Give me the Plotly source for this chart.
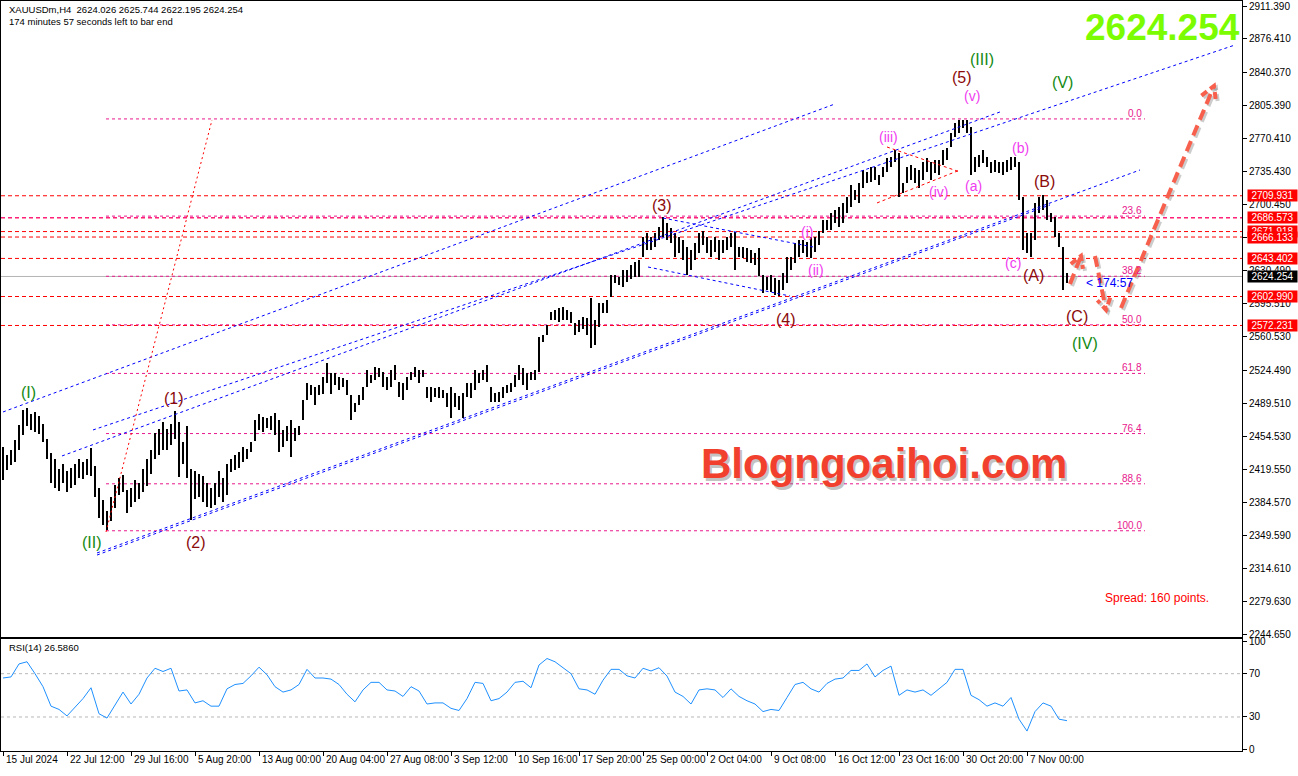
import numpy as np
import plotly.graph_objects as go

# ---------------- data ----------------
# one plotted bar = two H4 bars; high / low prices
highs = [2443, 2435, 2440, 2451, 2467, 2483,
         2485, 2478, 2480, 2476, 2468,
         2452, 2437, 2430,
         2420, 2425, 2418, 2421,
         2425, 2430, 2427, 2431, 2442,
         2423, 2400, 2387, 2375,
         2390, 2403, 2410, 2413, 2398, 2400,
         2408, 2405, 2420, 2430,
         2440, 2458, 2462, 2470, 2462,
         2468, 2481, 2470,
         2448, 2465, 2420,
         2418, 2415, 2412, 2405, 2400, 2405, 2418, 2410, 2425,
         2430, 2435, 2438, 2443, 2441, 2448, 2472, 2478, 2475, 2474,
         2476, 2479, 2472, 2461, 2466, 2472, 2463, 2466, 2493, 2511,
         2509, 2507, 2509, 2517, 2532, 2522, 2522, 2518, 2516, 2514,
         2498, 2490, 2498, 2507, 2525, 2520, 2528, 2527, 2523, 2518,
         2525, 2530, 2512, 2511, 2518, 2523, 2528, 2525, 2525, 2507,
         2507, 2506, 2507, 2504, 2501, 2507, 2501, 2497, 2501, 2511,
         2511, 2525, 2522, 2525, 2530, 2507, 2501, 2502, 2507, 2509,
         2511, 2520, 2530, 2527, 2522, 2523, 2525, 2560, 2562, 2573,
         2587, 2589, 2591, 2592, 2589, 2587, 2575, 2578, 2581, 2580,
         2601, 2578, 2596, 2596, 2599, 2626, 2626, 2624, 2631, 2631,
         2636, 2640, 2642, 2666, 2670, 2666, 2670, 2677, 2687, 2681,
         2676, 2670, 2666, 2663, 2656, 2652, 2660, 2670, 2673, 2666,
         2663, 2666, 2663, 2663, 2666, 2670, 2671, 2656, 2656, 2655,
         2652, 2649, 2655, 2626, 2624, 2626, 2623, 2620, 2628, 2645,
         2645, 2660, 2663, 2663, 2661, 2666, 2666, 2672, 2684, 2684,
         2692, 2695, 2698, 2702, 2709, 2721, 2716, 2723, 2737, 2735,
         2740, 2740, 2732, 2740, 2750, 2751, 2759, 2755, 2723, 2740,
         2743, 2739, 2737, 2746, 2750, 2746, 2748, 2748, 2759, 2761,
         2777, 2787, 2790, 2790, 2790, 2783, 2751, 2753, 2759, 2751,
         2746, 2748, 2746, 2746, 2748, 2751, 2751, 2746, 2709, 2670,
         2670, 2702, 2709, 2711, 2705, 2692, 2687, 2670, 2656, 2628]

lows = [2408, 2419, 2424, 2427, 2440, 2456,
        2466, 2461, 2459, 2457, 2448,
        2430, 2405, 2400,
        2397, 2405, 2395, 2400,
        2403, 2410, 2409, 2413, 2412,
        2390, 2368, 2360, 2355,
        2365, 2378, 2392, 2395, 2373, 2380,
        2385, 2388, 2395, 2402,
        2415, 2430, 2435, 2440, 2440,
        2445, 2452, 2411,
        2425, 2410, 2366,
        2388, 2390, 2385, 2380, 2378, 2382, 2390, 2385, 2392,
        2417, 2419, 2421, 2427, 2430, 2438, 2450, 2461, 2459, 2463,
        2461, 2456, 2438, 2443, 2450, 2433, 2450, 2456, 2472, 2493,
        2498, 2488, 2498, 2500, 2511, 2500, 2509, 2504, 2507, 2498,
        2472, 2480, 2488, 2493, 2507, 2511, 2514, 2517, 2507, 2504,
        2507, 2514, 2496, 2493, 2504, 2514, 2517, 2511, 2517, 2495,
        2491, 2496, 2495, 2495, 2486, 2474, 2486, 2483, 2474, 2496,
        2495, 2504, 2511, 2514, 2512, 2491, 2491, 2491, 2495, 2501,
        2502, 2507, 2514, 2509, 2504, 2514, 2514, 2523, 2555, 2562,
        2578, 2578, 2576, 2578, 2578, 2575, 2562, 2565, 2569, 2562,
        2548, 2552, 2571, 2585, 2585, 2602, 2617, 2615, 2613, 2618,
        2622, 2624, 2624, 2645, 2652, 2652, 2656, 2663, 2666, 2663,
        2660, 2645, 2649, 2642, 2626, 2631, 2642, 2649, 2658, 2649,
        2645, 2650, 2642, 2649, 2652, 2656, 2631, 2645, 2644, 2640,
        2639, 2636, 2625, 2607, 2610, 2608, 2605, 2603, 2610, 2617,
        2631, 2639, 2645, 2649, 2645, 2644, 2650, 2658, 2670, 2674,
        2674, 2681, 2677, 2681, 2692, 2698, 2705, 2702, 2718, 2723,
        2725, 2727, 2721, 2730, 2735, 2740, 2746, 2709, 2713, 2723,
        2727, 2723, 2718, 2727, 2735, 2727, 2734, 2732, 2743, 2748,
        2762, 2772, 2777, 2782, 2777, 2732, 2735, 2740, 2745, 2740,
        2734, 2735, 2734, 2732, 2735, 2737, 2740, 2705, 2652, 2649,
        2645, 2663, 2692, 2695, 2684, 2682, 2666, 2656, 2610, 2617]

# RSI(14), one value every four H4 bars
rsi_values = [66, 67, 79, 81, 70, 58, 40, 37, 31, 39,
              47, 57, 33, 29, 41, 53, 42, 51, 66, 75,
              72, 75, 54, 55, 43, 45, 40, 40, 56, 60,
              61, 68, 76, 69, 58, 53, 55, 60, 74, 66,
              66, 65, 60, 51, 44, 55, 62, 62, 55, 54,
              49, 58, 54, 42, 43, 43, 38, 36, 47, 62,
              61, 45, 47, 53, 62, 63, 57, 78, 84, 81,
              75.5, 70, 56, 55, 51, 64, 74, 74, 68, 66,
              75, 72.5, 75.5, 67.8, 53, 49, 42, 55, 56, 55,
              48, 56, 49, 45, 42, 35, 37, 36, 48, 60,
              62, 56, 53, 61, 65, 66, 73, 73, 79, 67,
              73, 77, 50, 55, 53, 55, 50, 56, 62, 74,
              74, 50, 46, 40, 43, 40, 48, 28, 17, 35,
              43, 40, 28, 26.586]

time_labels = ["15 Jul 2024", "22 Jul 12:00", "29 Jul 16:00", "5 Aug 20:00",
               "13 Aug 00:00", "20 Aug 04:00", "27 Aug 08:00", "3 Sep 12:00",
               "10 Sep 16:00", "17 Sep 20:00", "25 Sep 00:00", "2 Oct 04:00",
               "9 Oct 08:00", "16 Oct 12:00", "23 Oct 16:00", "30 Oct 20:00",
               "7 Nov 00:00"]
time_label_bars = [0, 32, 64, 96, 128, 160, 192, 224, 256, 288, 320, 352,
                   384, 416, 448, 480, 512]

price_ticks = [2911.390, 2876.410, 2840.370, 2805.390, 2770.410, 2735.430,
               2700.450, 2665.470, 2630.490, 2595.510, 2560.530, 2524.490,
               2489.510, 2454.530, 2419.550, 2384.570, 2349.590, 2314.610,
               2279.630, 2244.650]

level_prices = [2709.931, 2686.573, 2671.918, 2666.133, 2643.402, 2602.990, 2572.231]
bid_price = 2624.254

fib_high = 2791.5
fib_low = 2354.3
fib_levels = [0.0, 23.6, 38.2, 50.0, 61.8, 76.4, 88.6, 100.0, 127.2]

# Elliott-wave labels: text, bar index, price, colour group, size
wave_labels = [
    ("(I)", 12.5, 2501.6, "g", 16), ("(II)", 44.5, 2341.3, "g", 16),
    ("(1)", 85.5, 2494.2, "r", 16), ("(2)", 96.5, 2341.3, "r", 16),
    ("(3)", 329.5, 2700.1, "r", 16), ("(4)", 391.5, 2578.1, "r", 16),
    ("(5)", 479.5, 2836.0, "r", 16), ("(III)", 489.5, 2854.1, "g", 16),
    ("(V)", 529.5, 2830.7, "g", 16),
    ("(i)", 402.0, 2671.5, "m", 14), ("(ii)", 406.5, 2631.1, "m", 14),
    ("(iii)", 442.5, 2772.3, "m", 14), ("(iv)", 467.5, 2713.9, "m", 14),
    ("(v)", 484.5, 2815.9, "m", 14), ("(a)", 485.0, 2720.3, "m", 14),
    ("(b)", 508.5, 2760.7, "m", 14), ("(c)", 505.0, 2638.6, "m", 14),
    ("(A)", 515.0, 2625.8, "r", 16), ("(B)", 520.5, 2725.6, "r", 16),
    ("(C)", 537.0, 2581.3, "r", 16), ("(IV)", 541.0, 2553.6, "g", 16),
]

# hand-drawn trend lines: (bar0, price0, bar1, price1)
blue_lines = [
    (0.0, 2480.4, 416.0, 2807.4),
    (29.5, 2433.7, 498.5, 2798.9),
    (45.0, 2461.3, 616.0, 2870.0),
    (47.0, 2330.7, 568.5, 2737.3),
    (47.0, 2328.5, 523.5, 2700.2),
    (330.0, 2686.3, 405.0, 2655.6),
    (322.5, 2634.3, 393.5, 2603.5),
]
red_lines = [
    (442.0, 2761.7, 478.5, 2735.2),
    (437.0, 2702.3, 478.5, 2737.3),
]
fib_diagonal = (51.5, 2353.0, 104.5, 2790.4)

# forecast arrows: shaft (bar0, p0, bar1, p1) and head (wing1, tip, wing2)
arrows = [
    ((533.5, 2616.3, 539.0, 2646.0), ((533.9, 2637.5), (539.0, 2646.0), (540.0, 2632.3))),
    ((546.0, 2646.0, 551.5, 2588.7), ((553.6, 2601.7), (551.5, 2588.7), (547.2, 2599.0))),
    ((559.0, 2590.8, 605.5, 2826.5), ((599.2, 2816.2), (605.5, 2826.5), (606.5, 2809.6))),
]

BARS_PER_POINT = 2
RSI_STEP = 4
FIB_START, FIB_END = 51.5, 571.0

# ---------------- figure ----------------
bar_x = np.arange(len(highs)) * BARS_PER_POINT
hi = np.array(highs, dtype=float)
lo = np.array(lows, dtype=float)
rsi_x = np.arange(len(rsi_values)) * RSI_STEP

FONT = "Liberation Sans"
COL = {"g": "#138a13", "r": "#8b0a0a", "m": "#f03cf0"}
XR = [-1.0, 619.5]

fig = go.Figure()
fig.add_trace(go.Bar(x=bar_x, y=hi - lo, base=lo, width=0.8,
                     marker=dict(color="black", line=dict(width=0)),
                     xaxis="x", yaxis="y", showlegend=False, hoverinfo="skip"))
fig.add_trace(go.Scatter(x=rsi_x, y=rsi_values, mode="lines",
                         line=dict(color="#1e90ff", width=1),
                         xaxis="x2", yaxis="y2", showlegend=False, hoverinfo="skip"))

shapes = []
annotations = []

# RSI levels
for lv in (70, 30):
    shapes.append(dict(type="line", xref="x2", yref="y2", x0=XR[0], x1=XR[1], y0=lv, y1=lv,
                       line=dict(color="#b8b8b8", width=1, dash="3px,3px"), layer="below"))

# fib levels
for lv in fib_levels:
    p = fib_high - (fib_high - fib_low) * lv / 100.0
    shapes.append(dict(type="line", xref="x", yref="y", x0=FIB_START, x1=FIB_END, y0=p, y1=p,
                       line=dict(color="#e8188c", width=1, dash="3px,3px"), layer="below"))
    annotations.append(dict(x=FIB_END - 0.5, y=p, xref="x", yref="y", text="%.1f" % lv,
                            showarrow=False, xanchor="right", yanchor="bottom", yshift=-2,
                            font=dict(family=FONT, size=10, color="#e8188c")))

# horizontal price levels
for p in level_prices:
    shapes.append(dict(type="line", xref="paper", yref="y", x0=0, x1=1, y0=p, y1=p,
                       line=dict(color="#ff0000", width=1, dash="4px,3px"), layer="below"))
shapes.append(dict(type="line", xref="paper", yref="y", x0=0, x1=1, y0=level_prices[1],
                   y1=level_prices[1], line=dict(color="#ff1493", width=1, dash="4px,3px"),
                   layer="below"))
shapes.append(dict(type="line", xref="paper", yref="y", x0=0, x1=1, y0=bid_price, y1=bid_price,
                   line=dict(color="#b4b4b4", width=1), layer="below"))

# trend lines
for (a, b, c, d) in blue_lines:
    shapes.append(dict(type="line", xref="x", yref="y", x0=a, y0=b, x1=c, y1=d,
                       line=dict(color="#0000ff", width=1, dash="3px,3px")))
for (a, b, c, d) in red_lines:
    shapes.append(dict(type="line", xref="x", yref="y", x0=a, y0=b, x1=c, y1=d,
                       line=dict(color="#ff0000", width=1, dash="3px,3px")))
a, b, c, d = fib_diagonal
shapes.append(dict(type="line", xref="x", yref="y", x0=a, y0=b, x1=c, y1=d,
                   line=dict(color="#ff0000", width=1, dash="2px,3px")))

# arrows (shadow then colour)
for (shaft, head) in arrows:
    for dx, dy, col in ((1.0, -2.1, "rgba(110,110,110,0.35)"), (0.0, 0.0, "#f8604e")):
        a, b, c, d = shaft
        shapes.append(dict(type="line", xref="x", yref="y", x0=a + dx, y0=b + dy,
                           x1=c + dx, y1=d + dy,
                           line=dict(color=col, width=4, dash="11px,6px")))
        (w1x, w1y), (tx, ty), (w2x, w2y) = head
        path = "M %f,%f L %f,%f L %f,%f" % (w1x + dx, w1y + dy, tx + dx, ty + dy, w2x + dx, w2y + dy)
        shapes.append(dict(type="path", xref="x", yref="y", path=path,
                           line=dict(color=col, width=4, dash="7px,4px")))

# wave labels
for (t, bx, p, c, s) in wave_labels:
    annotations.append(dict(x=bx, y=p, xref="x", yref="y", text=t, showarrow=False,
                            xanchor="center", yanchor="middle",
                            font=dict(family=FONT, size=s, color=COL[c])))

# right-axis price boxes
for p in level_prices:
    annotations.append(dict(x=1, y=p, xref="paper", yref="y", text="%.3f" % p,
                            showarrow=False, xanchor="left", xshift=5, bgcolor="#ff0000",
                            borderpad=0, width=49,
                            font=dict(family=FONT, size=10, color="white")))
annotations.append(dict(x=1, y=bid_price, xref="paper", yref="y", text="%.3f" % bid_price,
                        showarrow=False, xanchor="left", xshift=5, bgcolor="black",
                        borderpad=0, width=49, font=dict(family=FONT, size=10, color="white")))

# time labels (left aligned at tick)
for lab, bx in zip(time_labels, time_label_bars):
    annotations.append(dict(x=bx, y=0, xref="x2", yref="paper", text=lab, showarrow=False,
                            xanchor="left", yanchor="top", xshift=1, yshift=-1,
                            font=dict(family=FONT, size=10, color="black")))

# texts
annotations += [
    dict(x=0.005, y=0.999, xref="paper", yref="paper", xanchor="left", yanchor="top",
         showarrow=False, align="left",
         text="XAUUSDm,H4  2624.026 2625.744 2622.195 2624.254<br>174 minutes 57 seconds left to bar end",
         font=dict(family=FONT, size=9.5, color="black")),
    dict(x=0.005, y=0.1475, xref="paper", yref="paper", xanchor="left", yanchor="top",
         showarrow=False, text="RSI(14) 26.5860", font=dict(family=FONT, size=9.5, color="black")),
    dict(x=1.0, y=0.995, xref="paper", yref="paper", xanchor="right", yanchor="top",
         showarrow=False, text="<b>2624.254</b>", font=dict(family=FONT, size=37, color="#7cfc00")),
    dict(x=0.9315, y=0.204, xref="paper", yref="paper", xanchor="center", yanchor="middle",
         showarrow=False,
         text="Spread: 160 points.", font=dict(family=FONT, size=12, color="#ff0000")),
    dict(x=540.5, y=bid_price - 7, xref="x", yref="y", xanchor="left", yanchor="middle",
         showarrow=False,
         text="&lt; 174:57", font=dict(family=FONT, size=12, color="#0000ff")),
    dict(x=0.7135, y=0.380, xref="paper", yref="paper", xanchor="center", yanchor="middle",
         showarrow=False,
         text="<b>Blogngoaihoi.com</b>", font=dict(family=FONT, size=42, color="rgba(120,120,120,0.45)")),
    dict(x=0.7115, y=0.384, xref="paper", yref="paper", xanchor="center", yanchor="middle",
         showarrow=False,
         text="<b>Blogngoaihoi.com</b>", font=dict(family=FONT, size=42, color="#f2402f")),
]

fig.update_layout(
    width=1298, height=776,
    margin=dict(l=1, r=56, t=1, b=25, autoexpand=False),
    paper_bgcolor="white", plot_bgcolor="white",
    showlegend=False, bargap=0,
    xaxis=dict(domain=[0, 1], anchor="y", range=XR, showticklabels=False, ticks="",
               showgrid=False, zeroline=False, showline=True, mirror=True,
               linecolor="black", linewidth=1),
    xaxis2=dict(domain=[0, 1], anchor="y2", range=XR, matches="x", showticklabels=False,
                ticks="outside", ticklen=4, tickcolor="black", tickvals=time_label_bars,
                showgrid=False, zeroline=False, showline=True, mirror=True,
                linecolor="black", linewidth=1),
    yaxis=dict(domain=[0.152, 1], anchor="x", side="right", range=[2241.5, 2916.7],
               tickvals=price_ticks, ticktext=["%.3f" % v for v in price_ticks],
               ticks="outside", ticklen=4, tickcolor="black",
               tickfont=dict(family=FONT, size=10, color="black"),
               showgrid=False, zeroline=False, showline=True, mirror=True,
               linecolor="black", linewidth=1),
    yaxis2=dict(domain=[0, 0.1493], anchor="x2", side="right", range=[-1.4, 102],
                tickvals=[0, 30, 70, 100], ticks="outside", ticklen=4, tickcolor="black",
                tickfont=dict(family=FONT, size=10, color="black"),
                showgrid=False, zeroline=False, showline=True, mirror=True,
                linecolor="black", linewidth=1),
    shapes=shapes,
    annotations=annotations,
)

fig.write_html("out.html", config={"displayModeBar": False},
               post_script="document.body.style.margin='0';document.body.style.overflow='hidden';")
